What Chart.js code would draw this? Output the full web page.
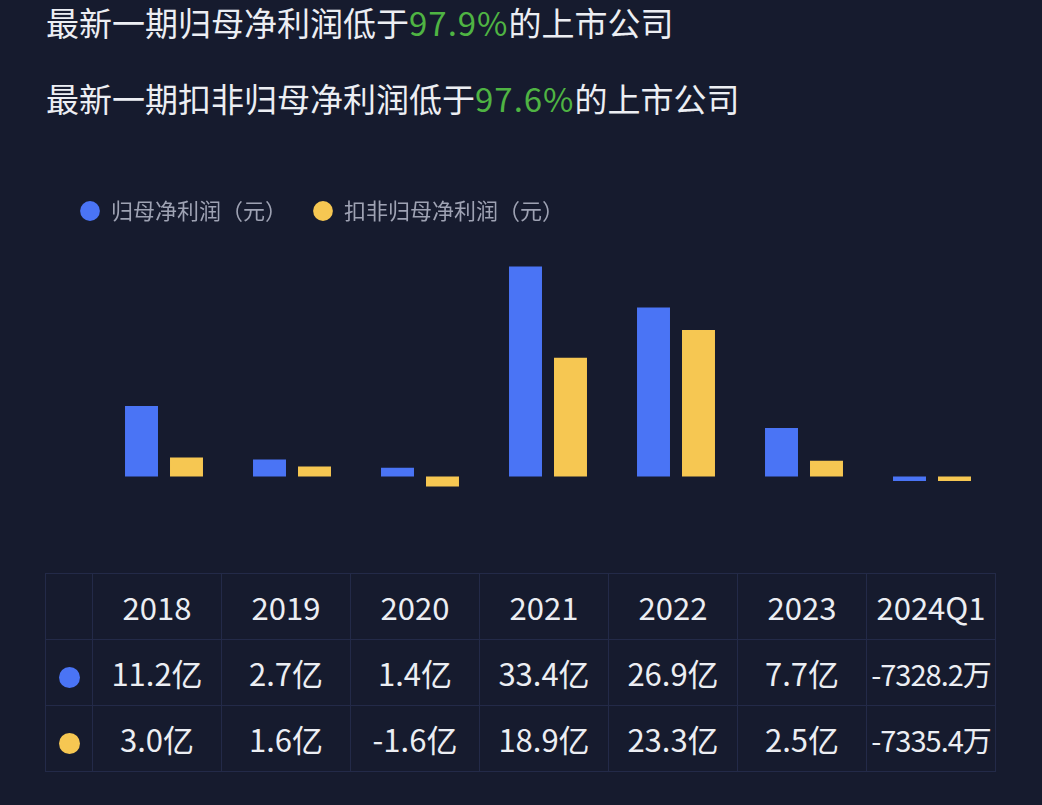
<!DOCTYPE html>
<html>
<head>
<meta charset="utf-8">
<script src="https://cdn.jsdelivr.net/npm/chart.js@4.4.1/dist/chart.umd.min.js"></script>
<style>
  html, body { margin: 0; padding: 0; }
  body {
    width: 1042px; height: 805px; overflow: hidden;
    background: #161b2e; position: relative;
    font-family: "Noto Sans CJK SC", "Noto Sans", sans-serif; color: #eceef3;
  }
  .title { position: absolute; left: 46px; font-size: 33px; line-height: 40px; white-space: nowrap; }
  .title b { font-weight: normal; color: #4fb443; letter-spacing: 1px; }
  #t1 { top: 2px; }
  #t2 { top: 78px; }
  #wrap { position: absolute; left: 0; top: 174px; width: 1042px; height: 336px; }
  table {
    position: absolute; left: 45px; top: 573px; border-collapse: collapse; table-layout: fixed;
    width: 951px; font-size: 31px; color: #eceef3;
  }
  td { border: 1.5px solid #232a48; text-align: center; height: 65px; padding: 0; white-space: nowrap; overflow: visible; }
  .dot { display: inline-block; width: 21px; height: 21px; border-radius: 50%; vertical-align: middle; }
</style>
</head>
<body>
<div class="title" id="t1">最新一期归母净利润低于<b>97.9%</b>的上市公司</div>
<div class="title" id="t2">最新一期扣非归母净利润低于<b>97.6%</b>的上市公司</div>
<div id="wrap"><canvas id="bar_chart"></canvas></div>
<table id="tbl"></table>
<script>
// values in 亿元
var periods = ['2018', '2019', '2020', '2021', '2022', '2023', '2024Q1'];
var netProfit = [11.2, 2.7, 1.4, 33.4, 26.9, 7.7, -0.73282];
var deductedProfit = [3.0, 1.6, -1.6, 18.9, 23.3, 2.5, -0.73354];
var seriesNames = ['归母净利润（元）', '扣非归母净利润（元）'];
var colors = ['#4a74f5', '#f6c752'];

function fmt(v) {
    if (Math.abs(v) < 1) return (v * 10000).toFixed(1) + '万';
    return v.toFixed(1) + '亿';
}

// table under the chart
var tbl = document.getElementById('tbl');
var html = '<colgroup><col style="width:47px">';
periods.forEach(function () { html += '<col style="width:129px">'; });
html += '</colgroup><tr><td></td>';
periods.forEach(function (p) { html += '<td>' + p + '</td>'; });
html += '</tr>';
[netProfit, deductedProfit].forEach(function (arr, i) {
    html += '<tr><td><span class="dot" style="background:' + colors[i] + '"></span></td>';
    arr.forEach(function (v) {
        var s = fmt(v);
        var style = s.length > 7 ? ' style="letter-spacing:-1px;font-size:29px"' : '';
        html += '<td' + style + '>' + s + '</td>';
    });
    html += '</tr>';
});
tbl.innerHTML = html;

var ctx = document.getElementById('bar_chart').getContext('2d');
new Chart(ctx, {
    type: 'bar',
    data: {
        labels: periods,
        datasets: [{
            label: seriesNames[0],
            data: netProfit,
            backgroundColor: colors[0]
        }, {
            label: seriesNames[1],
            data: deductedProfit,
            backgroundColor: colors[1]
        }]
    },
    options: {
        responsive: true,
        maintainAspectRatio: false,
        animation: false,
        layout: { padding: { left: 54, right: 46, top: 0, bottom: 21 } },
        categoryPercentage: 0.703,
        barPercentage: 0.733,
        plugins: {
            tooltip: { enabled: false },
            legend: {
                align: 'start',
                labels: {
                    usePointStyle: true,
                    pointStyle: 'circle',
                    boxWidth: 20,
                    boxHeight: 14,
                    color: '#9ea2b3',
                    padding: 26,
                    font: { size: 22, family: '"Noto Sans CJK SC"' }
                }
            }
        },
        scales: {
            x: { display: false },
            y: {
                min: -2,
                max: 38.9,
                afterFit: function (scale) { scale.width = 46; },
                border: { display: false },
                ticks: { display: false },
                grid: {
                    drawTicks: false,
                    lineWidth: 2,
                    color: function (c) { return c.tick && c.tick.value === 0 ? '#252c48' : 'rgba(0,0,0,0)'; }
                }
            }
        }
    }
});
</script>
</body>
</html>
